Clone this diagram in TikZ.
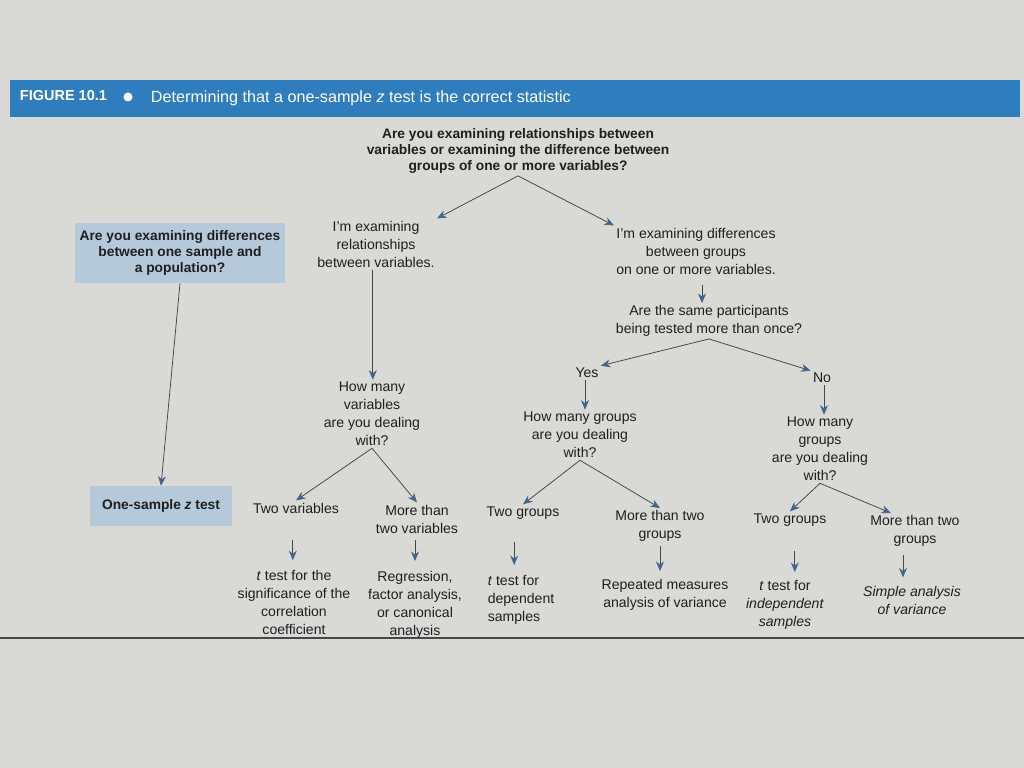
\documentclass[tikz,border=0pt]{standalone}
\usepackage{fontspec}
\setmainfont{Liberation Sans}
\usepackage{xcolor}
\usetikzlibrary{positioning,arrows.meta}
\definecolor{pagina}{HTML}{D9DAD6}
\definecolor{banda}{HTML}{2F7DBD}
\definecolor{caja}{HTML}{B5C9DA}
\definecolor{linea}{HTML}{45484A}
\definecolor{punta}{HTML}{43658A}
\definecolor{texto}{HTML}{1E1F20}

\begin{document}
\begin{tikzpicture}[x=0.025cm,y=-0.025cm,
    txt/.style={text=texto,align=center,inner sep=1.5pt,font=\fontsize{10}{12.8}\selectfont},
    ask/.style={txt,font=\fontsize{9.8}{11.4}\selectfont\bfseries},
    boxed/.style={ask,fill=caja,inner sep=3pt},
    arr/.style={draw=linea,line width=0.55pt,-{Stealth[length=2.4mm,width=2mm,color=punta]}}]
      \fill[pagina] (0,0) rectangle (1024,768);
      \useasboundingbox (0,0) rectangle (1024,768);
      % header
      \fill[banda] (10,80) rectangle (1020,117);
      \node[anchor=west,text=white,font=\fontsize{10.3}{12}\selectfont\bfseries] (fig) at (15,96) {FIGURE 10.1};
      \fill[white] (128,97) circle (4.5);
      \node[anchor=west,text=white,font=\fontsize{11.5}{13}\selectfont] (title) at (146,98) {Determining that a one-sample \textit{z} test is the correct statistic};
      % first question
      \node[ask] (root) at (518,151) {Are you examining relationships between\\variables or examining the difference between\\groups of one or more variables?};
      \node[txt] (rel) at (376,244) {I'm examining\\relationships\\between variables.};
      \node[txt] (diff) at (696,251) {I'm examining differences\\between groups\\on one or more variables.};
      \node[boxed,minimum width=5.15cm,minimum height=1.5cm] (sampleq) at (180,253) {Are you examining differences\\between one sample and\\a population?};
      \node[boxed,minimum width=3.55cm,minimum height=1cm] (ztest) at (161,506) {One-sample \textit{z} test};
      % relationships
      \node[txt] (howvar) at (372,414) {How many\\variables\\are you dealing\\with?};
      \node[txt] (twovar) at (296,508) {Two variables};
      \node[txt] (morevar) at (417,519) {More than\\two variables};
      \node[txt] (ttcor) at (294,602) {\textit{t} test for the\\significance of the\\correlation\\coefficient};
      \node[txt] (regr) at (415,605) {Regression,\\factor analysis,\\or canonical\\analysis};
      % differences
      \node[txt] (same) at (709,321) {Are the same participants\\being tested more than once?};
      \node[txt] (yes) at (587,373) {Yes};
      \node[txt] (no) at (822,378) {No};
      \node[txt] (hmgyes) at (580,435) {How many groups\\are you dealing\\with?};
      \node[txt] (twogy) at (523,513) {Two groups};
      \node[txt] (moregy) at (660,526) {More than two\\groups};
      \node[txt,align=left] (ttdep) at (521,600) {\textit{t} test for\\dependent\\samples};
      \node[txt] (rmanova) at (665,595) {Repeated measures\\analysis of variance};
      \node[txt] (hmgno) at (820,449) {How many\\groups\\are you dealing\\with?};
      \node[txt] (twogn) at (790,520) {Two groups};
      \node[txt] (moregn) at (915,531) {More than two\\groups};
      \node[txt] (ttind) at (785,605) {\textit{t} test for\\\textit{independent}\\\textit{samples}};
      \node[txt] (anova) at (912,600) {\textit{Simple analysis}\\\textit{of variance}};
      % forks
      \draw[arr] (root.south) -- (rel.north east);
      \draw[arr] (root.south) -- (diff.north west);
      \draw[arr] (sampleq.south) -- (ztest.north);
      \draw[arr] (howvar.south) -- (twovar.north);
      \draw[arr] (howvar.south) -- (morevar.north);
      \draw[arr] (same.south) -- (yes.north east);
      \draw[arr] (same.south) -- (no.north west);
      \draw[arr] (hmgyes.south) -- (twogy.north);
      \draw[arr] (hmgyes.south) -- (moregy.north);
      \draw[arr] (hmgno.south) -- (twogn.north);
      \draw[arr] (hmgno.south) -- ([xshift=-0.6cm]moregn.north);
      % straight down
      \draw[arr] ([xshift=-0.08cm]rel.south) -- ([xshift=-0.08cm]rel.south |- howvar.north);
      \draw[arr] ([xshift=-0.08cm,yshift=-0.6cm]twovar.south) -- ([xshift=-0.08cm,yshift=0.18cm]twovar.south |- ttcor.north);
      \draw[arr] ([xshift=-0.05cm,yshift=-0.1cm]morevar.south) -- ([xshift=-0.05cm,yshift=0.2cm]morevar.south |- regr.north);
      \draw[arr] ([xshift=0.15cm,yshift=-0.2cm]diff.south) -- ([xshift=0.15cm]diff.south |- same.north);
      \draw[arr] ([xshift=-0.05cm]yes.south) -- ([xshift=-0.05cm]yes.south |- hmgyes.north);
      \draw[arr] ([xshift=0.05cm]no.south) -- ([xshift=0.05cm]no.south |- hmgno.north);
      \draw[arr] ([xshift=-0.22cm,yshift=-0.5cm]twogy.south) -- ([xshift=-0.22cm,yshift=0.2cm]twogy.south |- ttdep.north);
      \draw[arr] ([yshift=-0.05cm]moregy.south) -- ([yshift=0.15cm]moregy.south |- rmanova.north);
      \draw[arr] ([xshift=0.12cm,yshift=-0.55cm]twogn.south) -- ([xshift=0.12cm,yshift=0.15cm]twogn.south |- ttind.north);
      \draw[arr] ([xshift=-0.3cm,yshift=-0.15cm]moregn.south) -- ([xshift=-0.3cm,yshift=0.15cm]moregn.south |- anova.north);
      % rule
      \draw[linea,line width=0.8pt] (0,638) -- (1024,638);
    \end{tikzpicture}
\end{document}
